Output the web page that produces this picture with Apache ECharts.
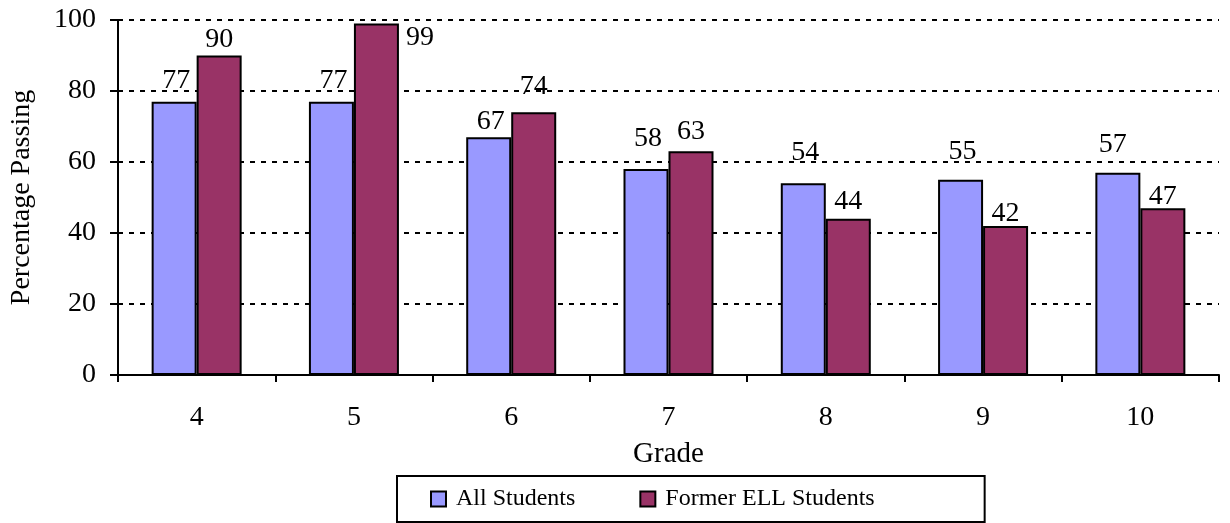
<!DOCTYPE html>
<html>
<head>
<meta charset="utf-8">
<script src="https://cdn.jsdelivr.net/npm/echarts@6/dist/echarts.min.js"></script>
<style>
  html, body { margin: 0; padding: 0; background: #fff; }
  #chart { width: 1230px; height: 523px; }
</style>
</head>
<body>
<div id="chart"></div>
<script>
var grades = ['4', '5', '6', '7', '8', '9', '10']
var allStudents = [77, 77, 67, 58, 54, 55, 57]
var formerEll = [90, 99, 74, 63, 44, 42, 47]

// label nudges (px, vertical) to follow the original placement
var allLabelShift = [-4, -4, 1, -13, -14, -11, -11]
var ellLabelShift = [1, 0, -9, -3, 0, 5, 5]

var font = "'Liberation Serif', 'Times New Roman', serif"

var chart = echarts.init(document.getElementById('chart'))

var allData = allStudents.map(function(v, i) {
  return { value: v, label: { offset: [i === 6 ? -5 : 2, allLabelShift[i]] } }
})

var ellData = formerEll.map(function(v, i) {
  if (i === 1) {
    // the 99 label sits to the right of its bar
    return { value: v, label: { position: [52, 0] } }
  }
  return { value: v, label: { offset: [0, ellLabelShift[i]] } }
})

chart.setOption({
  animation: false,
  textStyle: { fontFamily: font },
  grid: { left: 118, right: 11, top: 20, bottom: 148 },
  legend: {
    left: 397,
    top: 476,
    padding: [11, 110, 11, 33],
    itemGap: 64,
    itemWidth: 15,
    itemHeight: 15,
    borderColor: '#000',
    borderWidth: 2,
    borderRadius: 0,
    textStyle: { fontFamily: font, fontSize: 24, color: '#000', padding: [0, 0, 0, 5] },
    data: [
      { name: 'All Students', icon: 'rect' },
      { name: 'Former ELL Students', icon: 'rect' }
    ]
  },
  xAxis: {
    type: 'category',
    data: grades,
    boundaryGap: true,
    name: 'Grade',
    nameLocation: 'middle',
    nameGap: 65,
    nameTextStyle: { fontFamily: font, fontSize: 29, color: '#000' },
    axisLine: { lineStyle: { color: '#000', width: 2 } },
    axisTick: { show: true, length: 7, lineStyle: { color: '#000', width: 2 } },
    axisLabel: { fontFamily: font, fontSize: 28, color: '#000', margin: 29 }
  },
  yAxis: [{
    type: 'value',
    min: 0,
    max: 100,
    interval: 20,
    name: 'Percentage Passing',
    nameLocation: 'middle',
    nameGap: 82,
    nameRotate: 90,
    nameTextStyle: { fontFamily: font, fontSize: 28, color: '#000' },
    axisLine: { show: true, lineStyle: { color: '#000', width: 2 } },
    axisTick: { show: true, length: 8, lineStyle: { color: '#000', width: 2 } },
    axisLabel: { fontFamily: font, fontSize: 28, color: '#000', margin: 22 },
    splitLine: {
      show: true,
      lineStyle: { color: '#000', width: 2, type: [5, 6] }
    }
  }, {
    // inner half of the crossing ticks
    type: 'value',
    position: 'left',
    min: 0,
    max: 100,
    interval: 20,
    axisLine: { show: false },
    axisTick: { show: true, inside: true, length: 4, lineStyle: { color: '#000', width: 2 } },
    axisLabel: { show: false },
    splitLine: { show: false }
  }],
  series: [{
    name: 'All Students',
    type: 'bar',
    barWidth: 45,
    barGap: '0%',
    data: allData,
    itemStyle: { color: '#9999FF', borderColor: '#000', borderWidth: 2 },
    label: { show: true, position: 'top', distance: 3, fontFamily: font, fontSize: 28, color: '#000' }
  }, {
    name: 'Former ELL Students',
    type: 'bar',
    barWidth: 45,
    data: ellData,
    itemStyle: { color: '#993366', borderColor: '#000', borderWidth: 2 },
    label: { show: true, position: 'top', distance: 3, fontFamily: font, fontSize: 28, color: '#000' }
  }]
})
</script>
</body>
</html>
